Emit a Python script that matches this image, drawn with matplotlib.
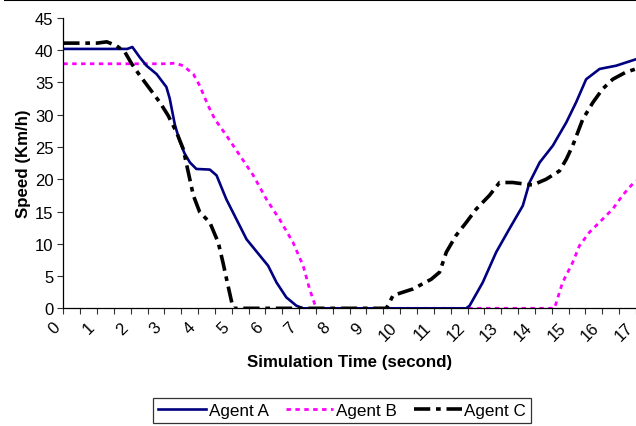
import matplotlib
matplotlib.use("Agg")
import matplotlib.pyplot as plt
from matplotlib.lines import Line2D
from matplotlib.ticker import MultipleLocator

plt.rcParams['font.family'] = ['Liberation Sans', 'DejaVu Sans']

# speed readings (km/h) against simulation time (s)
time_a = [0, 1.9, 2.05, 2.27, 2.47, 2.77, 3.06, 3.16, 3.31, 3.45, 3.6, 3.76, 3.95, 4.35, 4.55,
          4.84, 5.14, 5.44, 5.83, 6.08, 6.33, 6.62, 6.92, 7.12, 11.96, 12.06, 12.45,
          12.85, 13.24, 13.64, 13.84, 14.14, 14.53, 14.93, 15.22, 15.52, 15.92, 16.41, 17.0]
speed_a = [40.2, 40.2, 40.5, 38.9, 37.6, 36.3, 34.3, 32.5, 28.5, 26.0, 24.0, 22.6, 21.6, 21.5, 20.6,
           16.9, 13.8, 10.7, 8.2, 6.6, 4.0, 1.7, 0.4, 0, 0, 0.4, 4.0,
           8.7, 12.3, 15.9, 19.5, 22.6, 25.2, 28.8, 31.9, 35.5, 37.1, 37.6, 38.6]

time_b = [0, 3.1, 3.31, 3.56, 3.86, 4.05, 4.3, 4.5, 4.84, 5.24, 5.64, 6.03, 6.42, 6.82,
          7.12, 7.31, 7.46, 7.53, 14.58, 14.82, 15.12, 15.32, 15.62, 15.91, 16.31, 16.6,
          16.85, 17.0]
speed_b = [37.9, 37.9, 38.0, 37.6, 36.3, 34.5, 31.4, 29.3, 26.8, 23.7, 20.6, 16.9, 13.8, 10.2,
           6.6, 3.0, 0.7, 0, 0, 4.0, 7.1, 9.7, 11.8, 13.3, 15.4, 17.5,
           19.0, 19.8]

time_c = [0, 1.0, 1.29, 1.58, 1.83, 2.03, 2.27, 2.57, 2.87, 3.11, 3.36, 3.56, 3.71, 3.86,
          4.05, 4.35, 4.6, 4.74, 4.89, 5.04, 9.59, 9.79, 10.38, 10.92, 11.17, 11.37,
          11.66, 11.96, 12.26, 12.65, 12.95, 13.34, 13.93, 14.33, 14.73, 14.93, 15.12,
          15.42, 15.72, 16.01, 16.31, 16.7, 17.0]
speed_c = [41.1, 41.1, 41.3, 40.7, 39.7, 37.9, 36.1, 34.0, 31.9, 29.9, 27.3, 24.7, 21.1, 17.5,
           14.9, 13.3, 10.2, 7.1, 3.5, 0, 0, 2.0, 3.0, 4.5, 5.6, 8.7,
           11.3, 13.3, 15.4, 17.5, 19.5, 19.5, 19.1, 20.0, 21.3, 23.1, 25.2,
           29.3, 31.9, 34.0, 35.5, 36.6, 37.1]

x_ticks = list(range(0, 18))
y_ticks = list(range(0, 50, 5))

fig = plt.figure(figsize=(6.36, 4.27), dpi=100)
ax = fig.add_axes([0.0995, 0.2756, 0.9005, 0.680])

ax.plot(time_a, speed_a, color='#000080', lw=1.9, label='Agent A', zorder=3)
ax.plot(time_b, speed_b, color='#ff00ff', lw=2.0, linestyle=(0, (1.6, 1.6)),
        label='Agent B', zorder=2)
ax.plot(time_c, speed_c, color='black', lw=2.6, linestyle=(0, (4.5, 1.6, 1.3, 1.6)),
        label='Agent C', zorder=4)

ax.set_xlim(0, 17)
ax.set_ylim(0, 45)
ax.set_xticks(x_ticks)
ax.xaxis.set_minor_locator(MultipleLocator(0.5))
ax.set_yticks(y_ticks)
ax.tick_params(axis='both', which='both', direction='out', length=4, width=0.8,
               color='#333333', labelsize=12)
ax.tick_params(axis='y', pad=3)
ax.tick_params(axis='x', pad=4)
for lab in ax.get_xticklabels():
    lab.set_rotation(45)
    lab.set_ha('right')
    lab.set_va('top')

for side in ['top', 'right']:
    ax.spines[side].set_visible(False)
for side in ['left', 'bottom']:
    ax.spines[side].set_color('black')
    ax.spines[side].set_linewidth(0.9)

ax.set_xlabel('Simulation Time (second)', fontsize=12.2, fontweight='bold', labelpad=8)
ax.set_ylabel('Speed (Km/h)', fontsize=12.2, fontweight='bold', labelpad=3)

leg = ax.legend(loc='center', bbox_to_anchor=(0.538, 0.036), bbox_transform=fig.transFigure,
                ncol=3, fontsize=12.3, frameon=True, fancybox=False, handlelength=2.8,
                handletextpad=0.15, columnspacing=1.0, borderpad=0.3)
leg.get_frame().set_edgecolor('black')
leg.get_frame().set_linewidth(0.9)

fig.add_artist(Line2D([0.008, 1.0], [0.998, 0.998], color='black', lw=1.5,
                      transform=fig.transFigure))

fig.savefig('out.png', dpi=100)
